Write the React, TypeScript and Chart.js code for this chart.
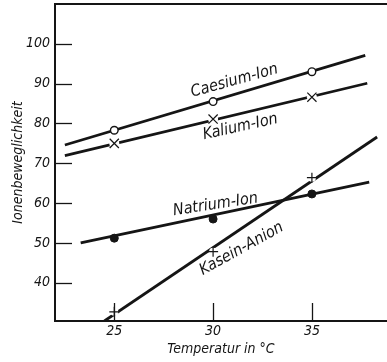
import React, { useEffect, useRef } from "react";
import { Chart, registerables } from "chart.js";
Chart.register(...registerables);

// measured points
const temperatures = [25, 30, 35];
const caesiumValues = [78.3, 85.5, 93.0];
const kaliumValues = [75.0, 81.1, 86.6];
const natriumValues = [51.2, 56.0, 62.3];
const kaseinValues = [32.7, 47.8, 66.4];

// fitted straight lines: [start, end]
const caesiumFitT = [22.5, 37.7];
const caesiumFitV = [74.6, 97.1];
const kaliumFitT = [22.5, 37.8];
const kaliumFitV = [71.9, 90.1];
const natriumFitT = [23.3, 37.9];
const natriumFitV = [50.0, 65.3];
const kaseinFitT = [24.5, 38.3];
const kaseinFitV = [30.4, 76.6];

const xTicks = [25, 30, 35];
const yTicks = [40, 50, 60, 70, 80, 90, 100];

const labelTexts = ["Caesium-Ion", "Kalium-Ion", "Natrium-Ion", "Kasein-Anion"];
const labelT = [31.08, 31.38, 30.12, 31.44];
const labelV = [90.7, 79.1, 59.6, 48.5];
const labelAngle = [-15.5, -12.5, -8.7, -29];

const FONT = "'DejaVu Sans Condensed', 'Liberation Sans Narrow', 'DejaVu Sans', sans-serif";
const INK = "#151515";

const pts = (t: number[], v: number[]) => t.map((x, i) => ({ x, y: v[i] }));

const decorPlugin = {
  id: "decor",
  afterDraw(chart: any) {
    const { ctx, chartArea, scales } = chart;
    const xs = scales.x;
    const ys = scales.y;
    ctx.save();
    ctx.strokeStyle = INK;
    // top border
    ctx.lineWidth = 2;
    ctx.beginPath();
    ctx.moveTo(chartArea.left, chartArea.top);
    ctx.lineTo(chartArea.right, chartArea.top);
    ctx.stroke();
    // inward ticks
    ctx.lineWidth = 1.3;
    yTicks.forEach((v) => {
      const y = Math.round(ys.getPixelForValue(v)) + 0.5;
      ctx.beginPath();
      ctx.moveTo(chartArea.left, y);
      ctx.lineTo(chartArea.left + 17, y);
      ctx.stroke();
    });
    xTicks.forEach((t) => {
      const x = Math.round(xs.getPixelForValue(t)) + 0.5;
      ctx.beginPath();
      ctx.moveTo(x, chartArea.bottom);
      ctx.lineTo(x, chartArea.bottom - 18);
      ctx.stroke();
    });
    // curve labels
    ctx.fillStyle = INK;
    ctx.font = `italic 16px ${FONT}`;
    ctx.textAlign = "center";
    ctx.textBaseline = "middle";
    labelTexts.forEach((txt, i) => {
      const x = xs.getPixelForValue(labelT[i]);
      const y = ys.getPixelForValue(labelV[i]);
      ctx.save();
      ctx.translate(x, y);
      ctx.rotate((labelAngle[i] * Math.PI) / 180);
      ctx.fillText(txt, 0, 0);
      ctx.restore();
    });
    ctx.restore();
  },
};

export default function App() {
  const ref = useRef<HTMLCanvasElement | null>(null);
  useEffect(() => {
    if (!ref.current) return;
    const lineDs = (t: number[], v: number[]) => ({
      data: pts(t, v),
      showLine: true,
      borderColor: INK,
      borderWidth: 2.8,
      pointRadius: 0,
      order: 5,
    });
    const haloDs = (v: number[], r: number) => ({
      data: pts(temperatures, v),
      showLine: false,
      pointStyle: "circle",
      pointRadius: r,
      pointBackgroundColor: "#ffffff",
      pointBorderWidth: 0,
      pointBorderColor: "rgba(0,0,0,0)",
      order: 3,
    });
    const chart = new Chart(ref.current, {
      type: "scatter",
      data: {
        datasets: [
          lineDs(caesiumFitT, caesiumFitV),
          lineDs(kaliumFitT, kaliumFitV),
          lineDs(natriumFitT, natriumFitV),
          lineDs(kaseinFitT, kaseinFitV),
          haloDs(kaliumValues, 5),
          haloDs(kaseinValues, 4),
          {
            data: pts(temperatures, caesiumValues),
            showLine: false,
            pointStyle: "circle",
            pointRadius: 3.8,
            pointBackgroundColor: "#ffffff",
            pointBorderColor: INK,
            pointBorderWidth: 1.4,
            order: 1,
          },
          {
            data: pts(temperatures, kaliumValues),
            showLine: false,
            pointStyle: "crossRot",
            pointRadius: 6.5,
            pointBorderColor: INK,
            pointBorderWidth: 1.2,
            order: 1,
          },
          {
            data: pts(temperatures, natriumValues),
            showLine: false,
            pointStyle: "circle",
            pointRadius: 4,
            pointBackgroundColor: INK,
            pointBorderColor: INK,
            pointBorderWidth: 1,
            order: 1,
          },
          {
            data: pts(temperatures, kaseinValues),
            showLine: false,
            pointStyle: "cross",
            pointRadius: 5,
            pointBorderColor: INK,
            pointBorderWidth: 1.2,
            order: 1,
          },
        ] as any,
      },
      options: {
        animation: false,
        responsive: false,
        maintainAspectRatio: false,
        devicePixelRatio: 1,
        layout: { autoPadding: false, padding: { top: 4, right: 0, left: 0, bottom: 0 } },
        plugins: { legend: { display: false }, tooltip: { enabled: false } },
        events: [],
        scales: {
          x: {
            type: "linear",
            min: 22,
            max: 38.8,
            afterFit: (s: any) => {
              s.height = 41;
              s.paddingLeft = 0;
              s.paddingRight = 0;
              s.paddingTop = 0;
              s.paddingBottom = 0;
            },
            afterBuildTicks: (s: any) => {
              s.ticks = xTicks.map((v) => ({ value: v }));
            },
            grid: { display: false, drawTicks: false },
            border: { display: true, color: INK, width: 2 },
            ticks: {
              color: INK,
              padding: 2,
              font: { family: FONT, size: 14, style: "italic" },
            },
            title: {
              display: true,
              text: "Temperatur in °C",
              color: INK,
              font: { family: FONT, size: 14, style: "italic" },
              padding: { top: 0, bottom: 4 },
            },
          },
          y: {
            type: "linear",
            min: 30.4,
            max: 110,
            afterFit: (s: any) => {
              s.width = 55;
              s.paddingLeft = 0;
              s.paddingRight = 0;
              s.paddingTop = 0;
              s.paddingBottom = 0;
            },
            afterBuildTicks: (s: any) => {
              s.ticks = yTicks.map((v) => ({ value: v }));
            },
            grid: { display: false, drawTicks: false },
            border: { display: true, color: INK, width: 2 },
            ticks: {
              color: INK,
              padding: 5,
              font: { family: FONT, size: 14, style: "italic" },
            },
            title: {
              display: true,
              text: "Ionenbeweglichkeit",
              color: INK,
              font: { family: FONT, size: 14, style: "italic" },
              padding: { top: 10, bottom: 0 },
            },
          },
        },
      },
      plugins: [decorPlugin],
    } as any);
    return () => chart.destroy();
  }, []);
  return (
    <div style={{ position: "fixed", left: 0, top: 0, width: 387, height: 362, overflow: "hidden", background: "#fff" }}>
      <canvas ref={ref} width={387} height={362} style={{ display: "block", width: 387, height: 362 }} />
    </div>
  );
}
